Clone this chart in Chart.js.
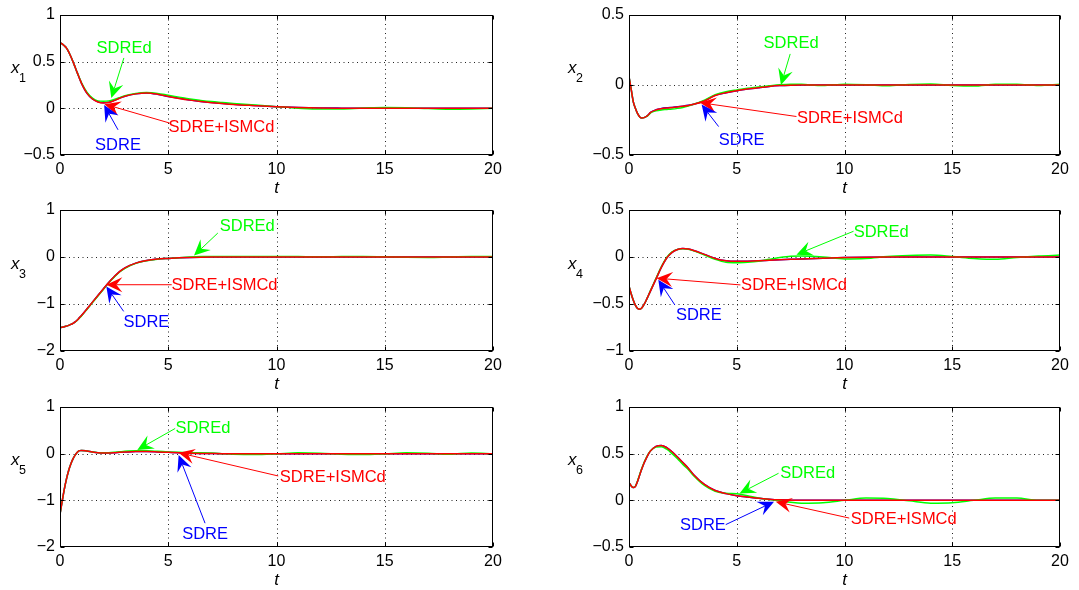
<!DOCTYPE html>
<html>
<head>
<meta charset="utf-8">
<script src="https://cdn.jsdelivr.net/npm/chart.js@4.4.1/dist/chart.umd.min.js"></script>
<style>
html,body{margin:0;padding:0;background:#ffffff;}
#wrap{position:relative;width:1079px;height:590px;overflow:hidden;background:#fff;}
#wrap canvas{position:absolute;}
</style>
</head>
<body>
<div id="wrap"></div>
<script>
// ---- data ----
const T = [0,0.1,0.2,0.3,0.4,0.5,0.6,0.7,0.8,0.9,1,1.25,1.5,1.75,2,2.25,2.5,2.75,3,3.5,4,4.5,5,5.5,6,6.5,7,7.5,8,9,10,11,12,13,14,15,16,17,18,19,20];
const xTicks = [0,5,10,15,20];
const seriesNames = ['SDRE','SDREd','SDRE+ISMCd'];

const x1_SDRE  = [0.70,0.69,0.67,0.645,0.605,0.555,0.50,0.44,0.38,0.32,0.265, 0.16,0.10,0.07,0.06,0.065,0.085,0.11,0.13, 0.155,0.165,0.152,0.127,0.107,0.09,0.074,0.062,0.052,0.043, 0.03,0.018,0.009,0.004,0.002,0.001,0,0,0,0,0,0];
const x1_SDREd = [0.70,0.69,0.67,0.645,0.605,0.555,0.50,0.44,0.38,0.325,0.27, 0.17,0.11,0.08,0.075,0.08,0.095,0.115,0.135, 0.16,0.17,0.16,0.14,0.12,0.1,0.085,0.072,0.062,0.052, 0.035,0.018,0.002,-0.008,-0.006,0.003,0.01,0.007,-0.003,-0.01,-0.007,0.0];
const x1_ISMCd = [0.70,0.69,0.67,0.645,0.605,0.555,0.50,0.44,0.38,0.32,0.265, 0.16,0.10,0.068,0.058,0.063,0.083,0.108,0.13, 0.155,0.165,0.152,0.127,0.106,0.088,0.073,0.061,0.051,0.042, 0.029,0.017,0.008,0.003,0.001,0,0,0,0,0,0,0];

const x2_SDRE  = [0.06,-0.03,-0.12,-0.168,-0.205,-0.228,-0.236,-0.233,-0.225,-0.212,-0.196, -0.177,-0.168,-0.163,-0.16,-0.156,-0.151,-0.145,-0.137, -0.113,-0.074,-0.055,-0.041,-0.029,-0.019,-0.01,-0.004,-0.001,0, 0,0,0,0,0,0,0,0,0,0,0,0];
const x2_SDREd = [0.06,-0.03,-0.12,-0.168,-0.205,-0.228,-0.236,-0.233,-0.226,-0.215,-0.2, -0.185,-0.178,-0.175,-0.172,-0.167,-0.16,-0.15,-0.138, -0.108,-0.07,-0.048,-0.035,-0.024,-0.014,-0.006,0.002,0.006,0.005, -0.004,0.006,0.002,-0.006,0.004,0.007,-0.003,-0.007,0.005,0.006,-0.004,0.006];
const x2_ISMCd = [0.06,-0.03,-0.12,-0.168,-0.205,-0.228,-0.236,-0.233,-0.225,-0.212,-0.196, -0.178,-0.169,-0.164,-0.161,-0.157,-0.152,-0.146,-0.138, -0.114,-0.075,-0.055,-0.041,-0.029,-0.019,-0.01,-0.004,-0.001,0, 0,0,0,0,0,0,0,0,0,0,0,0];

const x3_SDRE  = [-1.50,-1.495,-1.485,-1.47,-1.455,-1.435,-1.41,-1.38,-1.34,-1.29,-1.24, -1.10,-0.96,-0.82,-0.68,-0.54,-0.42,-0.31,-0.23, -0.13,-0.075,-0.045,-0.03,-0.018,-0.009,-0.004,-0.001,0,0, 0,0,0,0,0,0,0,0,0,0,0,0];
const x3_SDREd = [-1.50,-1.495,-1.485,-1.47,-1.455,-1.435,-1.412,-1.383,-1.345,-1.297,-1.25, -1.11,-0.97,-0.83,-0.69,-0.55,-0.43,-0.32,-0.24, -0.135,-0.08,-0.048,-0.03,-0.015,-0.002,0.008,0.012,0.012,0.01, 0.008,0.01,0.008,0.005,0.008,0.01,0.005,-0.005,-0.008,0.0,0.008,0.01];
const x3_ISMCd = [-1.50,-1.495,-1.485,-1.47,-1.455,-1.435,-1.41,-1.38,-1.34,-1.29,-1.24, -1.10,-0.96,-0.82,-0.68,-0.54,-0.42,-0.31,-0.23, -0.13,-0.075,-0.045,-0.03,-0.018,-0.009,-0.004,-0.001,0,0, 0,0,0,0,0,0,0,0,0,0,0,0];

const x4_SDRE  = [-0.31,-0.39,-0.46,-0.515,-0.548,-0.555,-0.54,-0.505,-0.46,-0.41,-0.36, -0.235,-0.11,-0.01,0.05,0.08,0.09,0.085,0.07, 0.028,-0.015,-0.04,-0.046,-0.044,-0.04,-0.035,-0.03,-0.025,-0.02, -0.012,-0.006,-0.002,0,0,0,0,0,0,0,0,0];
const x4_SDREd = [-0.31,-0.39,-0.46,-0.515,-0.548,-0.555,-0.54,-0.505,-0.46,-0.41,-0.355, -0.23,-0.105,-0.005,0.055,0.08,0.088,0.082,0.065, 0.02,-0.025,-0.055,-0.06,-0.055,-0.045,-0.025,-0.005,0.008,0.01, 0.0,-0.02,-0.015,0.005,0.015,0.02,0.005,-0.015,-0.025,-0.005,0.01,0.02];
const x4_ISMCd = [-0.31,-0.39,-0.46,-0.515,-0.548,-0.555,-0.54,-0.505,-0.46,-0.41,-0.36, -0.235,-0.11,-0.01,0.05,0.08,0.09,0.085,0.07, 0.028,-0.015,-0.04,-0.046,-0.044,-0.04,-0.035,-0.03,-0.025,-0.02, -0.012,-0.006,-0.002,0,0,0,0,0,0,0,0,0];

const x5_SDRE  = [-1.30,-1.02,-0.76,-0.54,-0.36,-0.22,-0.11,-0.03,0.03,0.065,0.07, 0.055,0.035,0.02,0.015,0.015,0.02,0.028,0.035, 0.045,0.045,0.038,0.028,0.018,0.01,0.005,0.002,0,0, 0,0,0,0,0,0,0,0,0,0,0,0];
const x5_SDREd = [-1.30,-1.02,-0.76,-0.54,-0.36,-0.22,-0.11,-0.03,0.03,0.065,0.07, 0.055,0.035,0.022,0.018,0.022,0.03,0.04,0.05, 0.06,0.06,0.05,0.038,0.028,0.02,0.02,0.012,0.0,-0.012, -0.02,-0.005,0.018,0.01,-0.01,-0.02,-0.005,0.018,0.01,-0.01,0.015,0.0];
const x5_ISMCd = [-1.30,-1.02,-0.76,-0.54,-0.36,-0.22,-0.11,-0.03,0.03,0.065,0.07, 0.055,0.035,0.02,0.015,0.015,0.02,0.028,0.035, 0.045,0.045,0.038,0.028,0.018,0.01,0.005,0.002,0,0, 0,0,0,0,0,0,0,0,0,0,0,0];

const x6_SDRE  = [0.19,0.155,0.137,0.15,0.205,0.275,0.34,0.40,0.45,0.495,0.53, 0.578,0.588,0.565,0.52,0.465,0.405,0.345,0.275, 0.17,0.105,0.072,0.05,0.035,0.022,0.012,0.005,0.002,0, 0,0,0,0,0,0,0,0,0,0,0,0];
const x6_SDREd = [0.19,0.155,0.137,0.152,0.21,0.28,0.345,0.405,0.455,0.498,0.532, 0.57,0.575,0.548,0.50,0.445,0.385,0.33,0.265, 0.16,0.098,0.075,0.07,0.05,0.025,0.008,-0.005,-0.02,-0.03, -0.025,0.0,0.025,0.02,-0.005,-0.03,-0.025,0.0,0.025,0.025,0.0,0.0];
const x6_ISMCd = [0.19,0.155,0.137,0.15,0.205,0.275,0.34,0.40,0.45,0.495,0.53, 0.578,0.588,0.565,0.52,0.465,0.405,0.345,0.275, 0.17,0.105,0.072,0.05,0.035,0.022,0.012,0.005,0.002,0, 0,0,0,0,0,0,0,0,0,0,0,0];

const yTicks_x1 = [-0.5,0,0.5,1];
const yTicks_x2 = [-0.5,0,0.5];
const yTicks_x3 = [-2,-1,0,1];
const yTicks_x4 = [-1,-0.5,0,0.5];
const yTicks_x5 = [-2,-1,0,1];
const yTicks_x6 = [-0.5,0,0.5,1];

// ---- annotations (data coordinates: [t, value]) ----
const GREEN = '#00ff00', RED = '#ff0000', BLUE = '#0000ff';
const notes_x1 = [
  {text:'SDREd', color:GREEN, at:[2.96,0.64], from:[2.95,0.54], to:[2.37,0.11]},
  {text:'SDRE+ISMCd', color:RED, at:[7.46,-0.208], from:[5.07,-0.158], to:[2.05,0.045]},
  {text:'SDRE', color:BLUE, at:[2.68,-0.393], from:[2.68,-0.23], to:[2.04,0.035]}
];
const notes_x2 = [
  {text:'SDREd', color:GREEN, at:[7.52,0.295], from:[7.48,0.222], to:[7.05,0.0]},
  {text:'SDRE+ISMCd', color:RED, at:[10.25,-0.237], from:[7.77,-0.225], to:[3.3,-0.126]},
  {text:'SDRE', color:BLUE, at:[5.23,-0.393], from:[4.16,-0.297], to:[3.37,-0.14]}
];
const notes_x3 = [
  {text:'SDREd', color:GREEN, at:[8.65,0.65], from:[7.29,0.51], to:[6.19,0.03]},
  {text:'SDRE+ISMCd', color:RED, at:[7.6,-0.6], from:[5.16,-0.59], to:[2.14,-0.59]},
  {text:'SDRE', color:BLUE, at:[3.99,-1.40], from:[2.94,-1.157], to:[2.14,-0.625]}
];
const notes_x4 = [
  {text:'SDREd', color:GREEN, at:[11.7,0.257], from:[10.42,0.274], to:[7.77,0.025]},
  {text:'SDRE+ISMCd', color:RED, at:[7.66,-0.308], from:[5.17,-0.297], to:[1.28,-0.225]},
  {text:'SDRE', color:BLUE, at:[3.24,-0.618], from:[2.13,-0.511], to:[1.36,-0.243]}
];
const notes_x5 = [
  {text:'SDREd', color:GREEN, at:[6.6,0.544], from:[5.32,0.54], to:[3.57,0.08]},
  {text:'SDRE+ISMCd', color:RED, at:[12.6,-0.505], from:[10.08,-0.478], to:[5.48,0.02]},
  {text:'SDRE', color:BLUE, at:[6.7,-1.726], from:[6.7,-1.49], to:[5.48,-0.03]}
];
const notes_x6 = [
  {text:'SDREd', color:GREEN, at:[8.29,0.287], from:[6.94,0.29], to:[5.13,0.074]},
  {text:'SDRE+ISMCd', color:RED, at:[12.75,-0.21], from:[10.22,-0.19], to:[6.81,-0.015]},
  {text:'SDRE', color:BLUE, at:[3.43,-0.27], from:[4.49,-0.26], to:[6.73,-0.015]}
];

// ---- layout ----
const FONT = '"Liberation Sans", Arial, Helvetica, sans-serif';
const panels = [
  {sub:'1', left:0,   top:0,   w:540, h:195, pl:60, pr:493, pt:15, pb:155, labX:11, yTicks:yTicks_x1, series:[x1_SDRE,x1_SDREd,x1_ISMCd], notes:notes_x1},
  {sub:'2', left:540, top:0,   w:539, h:195, pl:89, pr:520, pt:15, pb:155, labX:28, yTicks:yTicks_x2, series:[x2_SDRE,x2_SDREd,x2_ISMCd], notes:notes_x2},
  {sub:'3', left:0,   top:195, w:540, h:195, pl:60, pr:493, pt:15, pb:156, labX:11, yTicks:yTicks_x3, series:[x3_SDRE,x3_SDREd,x3_ISMCd], notes:notes_x3},
  {sub:'4', left:540, top:195, w:539, h:195, pl:89, pr:520, pt:15, pb:156, labX:28, yTicks:yTicks_x4, series:[x4_SDRE,x4_SDREd,x4_ISMCd], notes:notes_x4},
  {sub:'5', left:0,   top:390, w:540, h:200, pl:60, pr:493, pt:17, pb:157, labX:11, yTicks:yTicks_x5, series:[x5_SDRE,x5_SDREd,x5_ISMCd], notes:notes_x5},
  {sub:'6', left:540, top:390, w:539, h:200, pl:89, pr:520, pt:17, pb:157, labX:28, yTicks:yTicks_x6, series:[x6_SDRE,x6_SDREd,x6_ISMCd], notes:notes_x6}
];

const fmt = v => (v < 0 ? '\u2212' : '') + String(Math.abs(v));

function drawArrow(ctx, x0, y0, x1, y1, color) {
  const ang = Math.atan2(y1 - y0, x1 - x0);
  const c = Math.cos(ang), s = Math.sin(ang);
  const L = 16, W = 7.5, N = 10;
  const bx = x1 - N * c, by = y1 - N * s;
  ctx.strokeStyle = color; ctx.lineWidth = 1; ctx.setLineDash([]);
  ctx.beginPath(); ctx.moveTo(x0, y0); ctx.lineTo(bx, by); ctx.stroke();
  ctx.fillStyle = color;
  ctx.beginPath();
  ctx.moveTo(x1, y1);
  ctx.lineTo(x1 - L * c + W * s, y1 - L * s - W * c);
  ctx.lineTo(bx, by);
  ctx.lineTo(x1 - L * c - W * s, y1 - L * s + W * c);
  ctx.closePath(); ctx.fill();
}

function makeDecor(p) {
  return {
    id: 'decor' + p.sub,
    beforeDatasetsDraw(chart) {
      const {ctx, chartArea: a, scales: {x, y}} = chart;
      ctx.save();
      ctx.strokeStyle = '#222'; ctx.lineWidth = 1; ctx.setLineDash([1, 3.5]);
      x.ticks.forEach(t => {
        if (t.value <= x.min || t.value >= x.max) return;
        const px = Math.round(x.getPixelForValue(t.value)) + 0.5;
        ctx.beginPath(); ctx.moveTo(px, a.top); ctx.lineTo(px, a.bottom); ctx.stroke();
      });
      y.ticks.forEach(t => {
        if (t.value <= y.min || t.value >= y.max) return;
        const py = Math.round(y.getPixelForValue(t.value)) + 0.5;
        ctx.beginPath(); ctx.moveTo(a.left, py); ctx.lineTo(a.right, py); ctx.stroke();
      });
      ctx.restore();
    },
    afterDatasetsDraw(chart) {
      const {ctx, chartArea: a, scales: {x, y}} = chart;
      ctx.save();
      ctx.setLineDash([]);
      ctx.strokeStyle = '#000'; ctx.lineWidth = 1;
      const L = Math.round(a.left) + 0.5, R = Math.round(a.right) - 0.5;
      const Tp = Math.round(a.top) + 0.5, B = Math.round(a.bottom) - 0.5;
      // inward tick marks
      const tl = 4;
      ctx.beginPath();
      x.ticks.forEach(t => {
        const px = Math.round(x.getPixelForValue(t.value)) + 0.5;
        ctx.moveTo(px, B); ctx.lineTo(px, B - tl);
        ctx.moveTo(px, Tp); ctx.lineTo(px, Tp + tl);
      });
      y.ticks.forEach(t => {
        const py = Math.round(y.getPixelForValue(t.value)) + 0.5;
        ctx.moveTo(L, py); ctx.lineTo(L + tl, py);
        ctx.moveTo(R, py); ctx.lineTo(R - tl, py);
      });
      ctx.stroke();
      // box
      ctx.strokeRect(L, Tp, R - L, B - Tp);
      // annotations
      p.notes.forEach(n => {
        const x0 = x.getPixelForValue(n.from[0]), y0 = y.getPixelForValue(n.from[1]);
        const x1 = x.getPixelForValue(n.to[0]), y1 = y.getPixelForValue(n.to[1]);
        drawArrow(ctx, x0, y0, x1, y1, n.color);
        ctx.fillStyle = n.color;
        ctx.font = '16.5px ' + FONT;
        ctx.textAlign = 'center'; ctx.textBaseline = 'middle';
        ctx.fillText(n.text, x.getPixelForValue(n.at[0]), y.getPixelForValue(n.at[1]));
      });
      // axis labels
      ctx.fillStyle = '#000';
      ctx.textAlign = 'left'; ctx.textBaseline = 'alphabetic';
      const cy = (a.top + a.bottom) / 2;
      ctx.font = 'italic 17px ' + FONT;
      ctx.fillText('x', p.labX, cy - 12);
      ctx.font = '12.5px ' + FONT;
      ctx.fillText(p.sub, p.labX + 8, cy - 3);
      ctx.font = 'italic 17px ' + FONT;
      ctx.textAlign = 'center';
      ctx.fillText('t', (a.left + a.right) / 2, a.bottom + 38);
      ctx.restore();
    }
  };
}

const wrap = document.getElementById('wrap');
const colors = [BLUE, GREEN, RED];
const orders = [2, 1, 0];

panels.forEach(p => {
  const cv = document.createElement('canvas');
  cv.width = p.w; cv.height = p.h;
  cv.style.left = p.left + 'px'; cv.style.top = p.top + 'px';
  cv.style.width = p.w + 'px'; cv.style.height = p.h + 'px';
  wrap.appendChild(cv);
  const datasets = p.series.map((arr, k) => ({
    label: seriesNames[k],
    data: T.map((t, i) => ({x: t, y: arr[i]})),
    borderColor: colors[k],
    backgroundColor: colors[k],
    borderWidth: 1.5,
    pointRadius: 0,
    fill: false,
    cubicInterpolationMode: 'monotone',
    order: orders[k]
  }));
  const ymin = p.yTicks[0], ymax = p.yTicks[p.yTicks.length - 1];
  new Chart(cv, {
    type: 'line',
    data: {datasets},
    options: {
      responsive: false,
      animation: false,
      devicePixelRatio: 1,
      events: [],
      layout: {padding: {left: 0, top: p.pt, right: p.w - p.pr, bottom: 0}},
      plugins: {legend: {display: false}, tooltip: {enabled: false}},
      scales: {
        x: {
          type: 'linear', position: 'bottom', min: 0, max: 20,
          afterBuildTicks: s => { s.ticks = xTicks.map(v => ({value: v})); },
          afterFit: s => { s.height = p.h - p.pb; },
          ticks: {color: '#000', font: {family: FONT, size: 16}, padding: 5, maxRotation: 0, autoSkip: false, callback: v => fmt(v)},
          grid: {display: false, drawTicks: false},
          border: {display: false}
        },
        y: {
          type: 'linear', position: 'left', min: ymin, max: ymax,
          afterBuildTicks: s => { s.ticks = p.yTicks.map(v => ({value: v})); },
          afterFit: s => { s.width = p.pl; },
          ticks: {color: '#000', font: {family: FONT, size: 16}, padding: 5, autoSkip: false, callback: v => fmt(v)},
          grid: {display: false, drawTicks: false},
          border: {display: false}
        }
      }
    },
    plugins: [makeDecor(p)]
  });
});
</script>
</body>
</html>
